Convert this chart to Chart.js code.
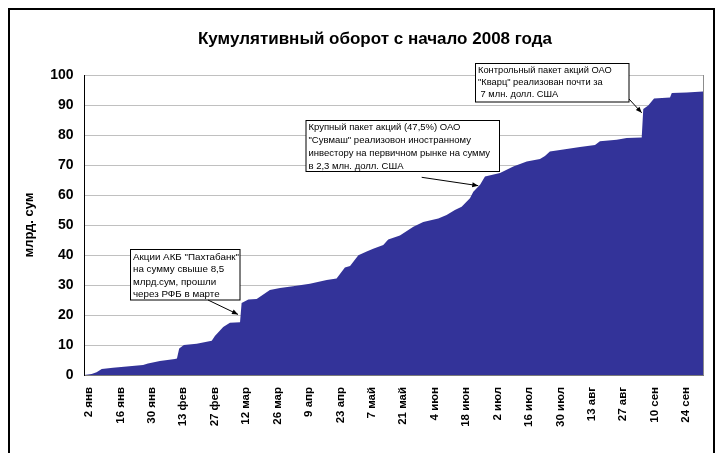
<!DOCTYPE html>
<html>
<head>
<meta charset="utf-8">
<script src="https://cdn.jsdelivr.net/npm/chart.js@4"></script>
<style>
  html, body { margin: 0; padding: 0; background: #fff; }
  #wrap { position: relative; width: 719px; height: 453px; }
  canvas { display: block; }
</style>
</head>
<body>
<div id="wrap"><canvas id="c" width="719" height="453"></canvas></div>
<script>
// ---- Data ----
const chartTitle = 'Кумулятивный оборот с начало 2008 года';
const yTitle = 'млрд. сум';
// tick labels on the x axis (every 14 days, day 0 = 2 янв)
const tickLabels = ['2 янв','16 янв','30 янв','13 фев','27 фев','12 мар','26 мар','9 апр','23 апр','7 май',
                    '21 май','4 июн','18 июн','2 июл','16 июл','30 июл','13 авг','27 авг','10 сен','24 сен'];
const tickDays = [0,14,28,42,56,70,84,98,112,126,140,154,168,182,196,210,224,238,252,266];
// cumulative turnover (bn sum); x = days since 2 янв
const pointDays = [-2.2, 1.2, 3.4, 5.7, 10.7, 16.8, 24.1, 26.3, 31.6, 38.3, 39.2, 40.2, 42.3, 48.0, 54.7, 56.1,
                   59.8, 62.8, 67.3, 68.0, 71.0, 74.7, 80.6, 85.1, 90.9, 98.4, 105.9, 110.3, 114.0, 116.3,
                   120.0, 123.7, 126.6, 131.1, 133.3, 138.5, 144.5, 148.9, 155.6, 159.3, 163.0, 166.0, 169.7,
                   171.2, 174.2, 176.4, 183.1, 189.0, 195.0, 200.9, 203.1, 205.3, 211.3, 218.7, 225.4, 227.6,
                   235.1, 239.5, 246.2, 246.9, 249.1, 251.7, 258.8, 259.6, 266.2, 273.5];
const turnover = [0.0, 0.3, 0.9, 2.0, 2.4, 2.8, 3.3, 3.8, 4.7, 5.3, 5.5, 8.8, 10.0, 10.4, 11.4, 13.0,
                  16.0, 17.4, 17.6, 24.0, 25.2, 25.3, 28.3, 29.0, 29.6, 30.4, 31.7, 32.2, 35.8, 36.3,
                  39.9, 41.2, 42.1, 43.3, 45.2, 46.5, 49.4, 51.0, 52.2, 53.3, 55.0, 56.1, 58.9,
                  61.1, 63.4, 66.2, 67.3, 69.5, 71.2, 72.0, 73.0, 74.5, 75.2, 76.0, 76.7, 77.9,
                  78.4, 79.0, 79.2, 88.7, 89.8, 92.2, 92.5, 94.0, 94.2, 94.5];
// callouts: text lines, box (pixels), arrow start (pixels), arrow tip (data: day, value)
const callouts = [
  { lines: ['Акции АКБ "Пахтабанк"', 'на сумму свыше 8,5', 'млрд.сум, прошли', 'через РФБ в марте'],
    box: [130.5, 249.5, 240, 300], font: '9.8px "Liberation Sans", Arial, sans-serif', lh: 12.4, first: 257,
    from: [208, 300], tipDay: 66.4, tipVal: 20.2 },
  { lines: ['Крупный пакет акций (47,5%) ОАО', '"Сувмаш" реализовон иностранному', 'инвестору на первичном рынке на сумму', 'в 2,3 млн. долл. США'],
    box: [306, 120.5, 499.5, 171.5], font: '9.5px "Liberation Sans", Arial, sans-serif', lh: 12.8, first: 127.5,
    from: [421.7, 177.3], tipDay: 173.4, tipVal: 63.1 },
  { lines: ['Контрольный пакет акций ОАО', '"Кварц" реализован почти за', ' 7 млн. долл. США'],
    box: [475.5, 63.5, 629, 102], font: '9.3px "Liberation Sans Narrow", "Liberation Sans", Arial, sans-serif', lh: 12.2, first: 70.5,
    from: [629, 99], tipDay: 246.2, tipVal: 87.4 }
];

const points = pointDays.map((d, i) => ({ x: d, y: turnover[i] }));

const decor = {
  id: 'decor',
  beforeDraw(chart) {
    const ctx = chart.ctx;
    ctx.save();
    ctx.fillStyle = '#fff';
    ctx.fillRect(0, 0, chart.width, chart.height);
    ctx.restore();
  },
  afterDraw(chart) {
    const ctx = chart.ctx;
    const a = chart.chartArea;
    const xs = chart.scales.x, ys = chart.scales.y;
    ctx.save();
    // right border of plot
    ctx.strokeStyle = '#8c8c8c';
    ctx.lineWidth = 1;
    ctx.beginPath();
    ctx.moveTo(Math.round(a.right) + 0.5, a.top);
    ctx.lineTo(Math.round(a.right) + 0.5, a.bottom);
    ctx.stroke();
    // outer frame
    ctx.strokeStyle = '#000';
    ctx.lineWidth = 2;
    ctx.strokeRect(9, 9, 705, 470);
    // title
    ctx.fillStyle = '#000';
    ctx.font = 'bold 17px "Liberation Sans", Arial, sans-serif';
    ctx.textAlign = 'center';
    ctx.textBaseline = 'middle';
    ctx.fillText(chartTitle, 375, 39);
    // callouts
    callouts.forEach(c => {
      const [x1, y1, x2, y2] = c.box;
      ctx.fillStyle = '#fff';
      ctx.fillRect(x1, y1, x2 - x1, y2 - y1);
      ctx.strokeStyle = '#000';
      ctx.lineWidth = 1;
      ctx.strokeRect(x1, y1, x2 - x1, y2 - y1);
      ctx.fillStyle = '#000';
      ctx.font = c.font;
      ctx.textAlign = 'left';
      ctx.textBaseline = 'middle';
      c.lines.forEach((t, i) => ctx.fillText(t, x1 + 2.5, c.first + i * c.lh));
      // arrow
      const tx = xs.getPixelForValue(c.tipDay), ty = ys.getPixelForValue(c.tipVal);
      const [fx, fy] = c.from;
      ctx.beginPath();
      ctx.moveTo(fx, fy);
      ctx.lineTo(tx, ty);
      ctx.stroke();
      const ang = Math.atan2(ty - fy, tx - fx);
      const L = 6, W = 2.5;
      ctx.beginPath();
      ctx.moveTo(tx, ty);
      ctx.lineTo(tx - L * Math.cos(ang) + W * Math.sin(ang), ty - L * Math.sin(ang) - W * Math.cos(ang));
      ctx.lineTo(tx - L * Math.cos(ang) - W * Math.sin(ang), ty - L * Math.sin(ang) + W * Math.cos(ang));
      ctx.closePath();
      ctx.fill();
    });
    ctx.restore();
  }
};

new Chart(document.getElementById('c'), {
  type: 'line',
  data: {
    datasets: [{
      data: points,
      fill: 'origin',
      backgroundColor: '#333399',
      borderColor: '#333399',
      borderWidth: 0,
      pointRadius: 0,
      tension: 0
    }]
  },
  options: {
    responsive: false,
    animation: false,
    devicePixelRatio: 1,
    layout: { padding: { top: 75, right: 16, left: 0, bottom: 0 } },
    plugins: { legend: { display: false }, title: { display: false }, tooltip: { enabled: false } },
    scales: {
      x: {
        type: 'linear',
        min: -2.2,
        max: 273.5,
        afterFit: s => { s.height = 78; },
        afterBuildTicks: s => { s.ticks = tickDays.map(v => ({ value: v })); },
        grid: { display: false, drawTicks: false },
        border: { display: true, color: '#7a7a7a', width: 1 },
        ticks: {
          autoSkip: false,
          minRotation: 90,
          maxRotation: 90,
          padding: 12,
          color: '#000',
          font: { family: '"Liberation Sans", Arial, sans-serif', size: 11.5, weight: 'bold' },
          callback: (v, i) => tickLabels[i]
        }
      },
      y: {
        min: 0,
        max: 100,
        afterFit: s => { s.width = 84; },
        grid: { color: '#c0c0c0', lineWidth: 1, drawTicks: false },
        border: { display: true, color: '#000', width: 1 },
        title: {
          display: true,
          text: yTitle,
          color: '#000',
          font: { family: '"Liberation Sans", Arial, sans-serif', size: 13, weight: 'bold' },
          padding: { top: 22, bottom: 0 }
        },
        ticks: {
          stepSize: 10,
          padding: 10.5,
          color: '#000',
          font: { family: '"Liberation Sans", Arial, sans-serif', size: 14, weight: 'bold' }
        }
      }
    }
  },
  plugins: [decor]
});
</script>
</body>
</html>
